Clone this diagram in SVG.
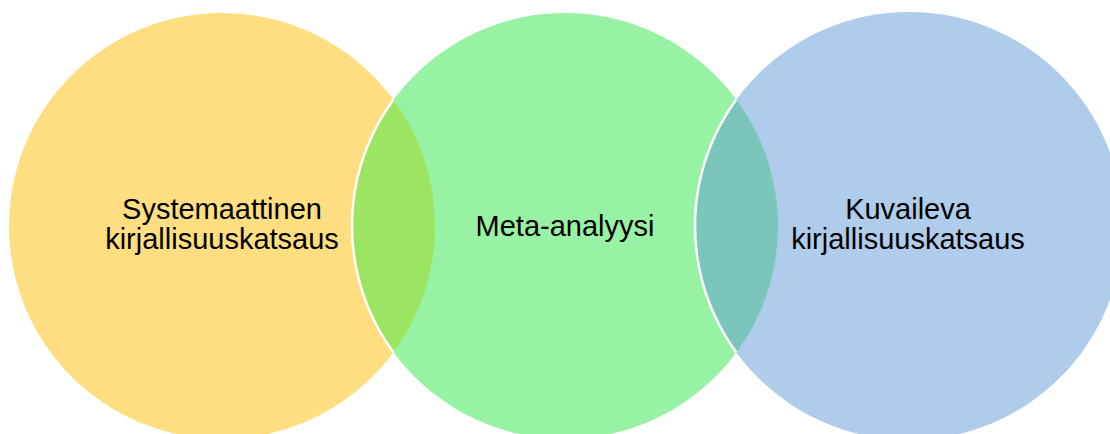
<svg xmlns="http://www.w3.org/2000/svg" width="1110" height="434" viewBox="0 0 1110 434">
<style>
.lbl{font-family:"Liberation Sans",Arial,sans-serif;font-size:29px;fill:#000;text-anchor:middle}
.edge{fill:none;stroke:#fff;stroke-width:2.5}
</style>
<defs>
<clipPath id="cy"><circle cx="222" cy="226" r="213"/></clipPath>
<clipPath id="cg"><circle cx="565" cy="226" r="213"/></clipPath>
</defs>
<rect width="1110" height="434" fill="#fff"/>
<g id="node-systemaattinen">
<circle cx="222" cy="226" r="213" fill="#FFDE81"/>
</g>
<g id="node-meta">
<circle cx="565" cy="226" r="213" fill="#98F2A3"/>
<circle cx="565" cy="226" r="213" fill="#9BE563" clip-path="url(#cy)"/>
<g clip-path="url(#cy)"><circle class="edge" cx="565" cy="226" r="213"/></g>
</g>
<g id="node-kuvaileva">
<circle cx="909" cy="226" r="214" fill="#AFCCEA"/>
<circle cx="909" cy="226" r="214" fill="#7BC6BB" clip-path="url(#cg)"/>
<g clip-path="url(#cg)"><circle class="edge" cx="909" cy="226" r="214"/></g>
</g>
<g id="labels">
<text class="lbl" x="222" y="219">Systemaattinen</text>
<text class="lbl" x="222" y="249">kirjallisuuskatsaus</text>
<text class="lbl" x="565" y="236">Meta-analyysi</text>
<text class="lbl" x="908" y="219">Kuvaileva</text>
<text class="lbl" x="908" y="249">kirjallisuuskatsaus</text>
</g>
<g id="connectors"/>
</svg>
